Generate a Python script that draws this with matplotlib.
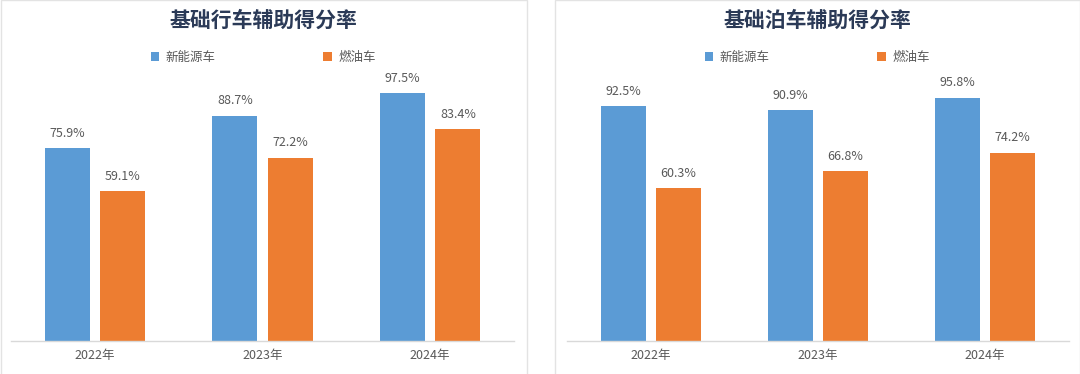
import matplotlib
matplotlib.use("Agg")
import matplotlib.pyplot as plt
from matplotlib.patches import Rectangle, Patch
import numpy as np

plt.rcParams['font.family'] = ['Noto Sans CJK SC', 'DejaVu Sans']

years = ["2022年", "2023年", "2024年"]
series_names = ["新能源车", "燃油车"]
drive_nev = [75.9, 88.7, 97.5]
drive_ice = [59.1, 72.2, 83.4]
park_nev = [92.5, 90.9, 95.8]
park_ice = [60.3, 66.8, 74.2]
titles = ["基础行车辅助得分率", "基础泊车辅助得分率"]

BLUE = "#5B9BD5"
ORANGE = "#ED7D31"
TXT = "#595959"
TITLE_C = "#2B3A57"

W, H = 1080, 374
fig = plt.figure(figsize=(W / 100, H / 100), dpi=100)

# panel borders
for x0, x1 in [(0.5, 527), (555, 1079.5)]:
    fig.patches.append(Rectangle((x0 / W, -0.1), (x1 - x0) / W, 1.1 - 0.5 / H,
                                 transform=fig.transFigure, fill=False,
                                 edgecolor="#E3E3E3", linewidth=1.0))

axes_px = [(11, 503), (567.5, 501)]
data = [(drive_nev, drive_ice), (park_nev, park_ice)]
panel_centers = [263, 817]

for i, ((ax_x, ax_w), (nev, ice)) in enumerate(zip(axes_px, data)):
    ax = fig.add_axes([ax_x / W, (H - 341) / H, ax_w / W, (341 - 87) / H])
    x = np.arange(len(years))
    bw = 0.27
    b1 = ax.bar(x - 0.165, nev, bw, color=BLUE, label=series_names[0])
    b2 = ax.bar(x + 0.165, ice, bw, color=ORANGE, label=series_names[1])
    for bars, vals in [(b1, nev), (b2, ice)]:
        for r, v in zip(bars, vals):
            ax.annotate(f"{v:.1f}%", (r.get_x() + r.get_width() / 2, v),
                        xytext=(0, 6), textcoords="offset points",
                        ha="center", va="bottom", fontsize=9, color=TXT,
                        annotation_clip=False)
    ax.set_xlim(-0.5, 2.5)
    ax.set_ylim(0, 100)
    ax.set_xticks(x)
    ax.set_xticklabels(years, fontsize=9, color=TXT)
    ax.tick_params(axis="x", length=0, pad=6)
    ax.set_yticks([])
    for s in ["top", "right", "left"]:
        ax.spines[s].set_visible(False)
    ax.spines["bottom"].set_color("#D9D9D9")
    ax.spines["bottom"].set_linewidth(1.0)
    ax.patch.set_alpha(0)

    fig.text(panel_centers[i] / W, 1 - 20 / H, titles[i], ha="center", va="center",
             fontsize=15, fontweight="bold", color=TITLE_C)
    handles = [Patch(facecolor=BLUE), Patch(facecolor=ORANGE)]
    fig.legend(handles, series_names, loc="center",
               bbox_to_anchor=(panel_centers[i] / W, 1 - 57 / H),
               ncol=2, frameon=False, fontsize=9, labelcolor=TXT,
               handlelength=0.7, handleheight=0.7, handletextpad=0.5,
               columnspacing=8.6)

fig.savefig("out.png", dpi=100, facecolor="white")
